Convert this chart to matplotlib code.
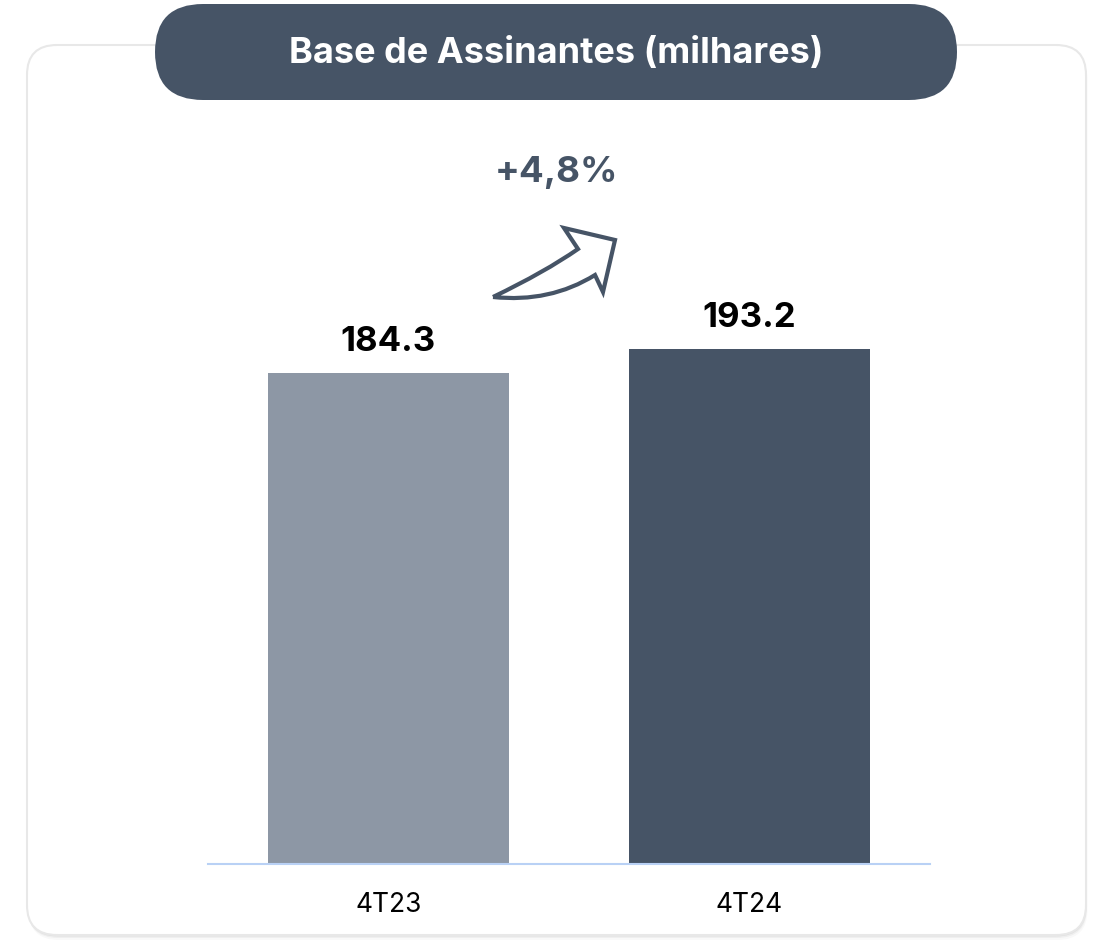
#!/usr/bin/env python
# -*- coding: utf-8 -*-
"""Base de Assinantes (milhares) - bar chart 4T23 vs 4T24"""
import matplotlib
matplotlib.use("Agg")
import matplotlib.pyplot as plt
from matplotlib.patches import FancyBboxPatch, PathPatch
from matplotlib.path import Path

# data
periods = ["4T23", "4T24"]
subscribers = [184.3, 193.2]
growth_label = "+4,8%"
title = "Base de Assinantes (milhares)"

bar_colors = ["#8d97a5", "#465466"]
dark = "#465466"

plt.rcParams["font.family"] = ["Inter", "DejaVu Sans"]

W, H = 1105, 947
fig = plt.figure(figsize=(W / 100, H / 100), dpi=100)
fig.patch.set_facecolor("white")

# background layer in pixel coordinates (card, title pill, arrow)
bg = fig.add_axes([0, 0, 1, 1], zorder=0)
bg.set_xlim(0, W)
bg.set_ylim(H, 0)
bg.axis("off")

# card shadow + card
for off, alpha in [(5, 0.025), (3, 0.04), (1.5, 0.06)]:
    bg.add_patch(FancyBboxPatch((27 + off * 0.3, 45 + off), 1059, 890,
                                boxstyle="round,pad=0,rounding_size=30",
                                fc="black", ec="none", alpha=alpha))
bg.add_patch(FancyBboxPatch((27, 45), 1059, 890,
                            boxstyle="round,pad=0,rounding_size=30",
                            fc="white", ec="#e8e8e8", lw=1.5))

# title pill
bg.add_patch(FancyBboxPatch((155, 4), 802, 96,
                            boxstyle="round,pad=0,rounding_size=48",
                            fc=dark, ec="none"))
bg.text(556, 53, title, color="white", fontsize=26, fontweight="bold",
        ha="center", va="center")

# growth text and outlined arrow
bg.text(556, 172, growth_label, color=dark, fontsize=26.5, fontweight="bold",
        ha="center", va="center")
verts = [(493, 297), (545, 272), (578, 249), (564, 228), (615, 240),
         (603, 292), (595, 275), (550, 303), (493, 297)]
codes = [Path.MOVETO, Path.CURVE3, Path.CURVE3, Path.LINETO, Path.LINETO,
         Path.LINETO, Path.LINETO, Path.CURVE3, Path.CURVE3]
bg.add_patch(PathPatch(Path(verts, codes), fc="white", ec=dark, lw=3,
                       joinstyle="miter"))

# bar chart
ax = fig.add_axes([208 / W, (H - 864) / H, 722 / W, (864 - 140) / H], zorder=1)
ax.patch.set_alpha(0)
x = range(len(periods))
ax.bar(x, subscribers, width=0.667, color=bar_colors)
ax.set_xlim(-0.5, 1.5)
ax.set_ylim(0, 271.6)
for spine in ["top", "right", "left"]:
    ax.spines[spine].set_visible(False)
ax.spines["bottom"].set_color("#b9d1f5")
ax.spines["bottom"].set_linewidth(1.5)
ax.set_yticks([])
ax.set_xticks(list(x))
ax.set_xticklabels(periods, fontsize=19)
ax.tick_params(axis="x", length=0, pad=20)

for i, v in enumerate(subscribers):
    ax.annotate(f"{v:.1f}", (i, v), xytext=(0, 22), textcoords="offset points",
                ha="center", va="center", fontsize=25, fontweight="bold",
                color="black")

plt.savefig("out.png", dpi=100)
